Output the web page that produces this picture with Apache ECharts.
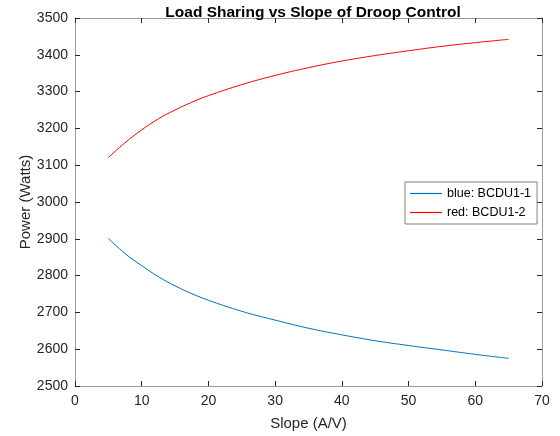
<!DOCTYPE html>
<html>
<head>
<meta charset="utf-8">
<script src="https://cdn.jsdelivr.net/npm/echarts@6/dist/echarts.min.js"></script>
<style>html,body{margin:0;padding:0;background:#fff}#c{width:560px;height:436px}</style>
</head>
<body>
<div id="c"></div>
<script>
var slope = [5, 7.5, 10, 12.5, 15, 17.5, 20, 25, 30, 35, 40, 45, 50, 55, 60, 65];
var bcdu1 = [2901, 2860, 2827, 2797, 2772, 2751, 2733, 2703, 2679, 2657, 2639, 2623, 2610, 2598, 2586, 2575];
var bcdu2 = [3121, 3161, 3196, 3226, 3250, 3271, 3289, 3319, 3344, 3365, 3383, 3398, 3411, 3423, 3433, 3442];
var seriesNames = ['blue: BCDU1-1', 'red: BCDU1-2'];
var xTicks = {min: 0, max: 70, step: 10};
var yTicks = {min: 2500, max: 3500, step: 100};

function pairs(xs, ys) { return xs.map(function (x, i) { return [x, ys[i]]; }); }

var font = 'Liberation Sans, Arial, Helvetica, sans-serif';
var axisCol = '#262626';
var chart = echarts.init(document.getElementById('c'), null, {renderer: 'canvas'});

function xAx(pos, show) {
  return {
    type: 'value', position: pos, min: xTicks.min, max: xTicks.max, interval: xTicks.step,
    axisLine: {show: true, onZero: false, lineStyle: {color: '#9a9a9a', width: 1}},
    axisTick: {show: true, inside: true, length: 5, lineStyle: {color: axisCol}},
    axisLabel: {show: show, color: axisCol, fontSize: 14, fontFamily: font, margin: 8,
                formatter: function (v) { return String(v); }},
    splitLine: {show: false},
    name: show ? 'Slope (A/V)' : '', nameLocation: 'middle', nameGap: 30, nameMoveOverlap: false,
    nameTextStyle: {color: axisCol, fontSize: 15, fontFamily: font}
  };
}
function yAx(pos, show) {
  return {
    type: 'value', position: pos, min: yTicks.min, max: yTicks.max, interval: yTicks.step,
    axisLine: {show: true, onZero: false, lineStyle: {color: '#9a9a9a', width: 1}},
    axisTick: {show: true, inside: true, length: 5, lineStyle: {color: axisCol}},
    axisLabel: {show: show, color: axisCol, fontSize: 14, fontFamily: font, margin: 7,
                formatter: function (v) { return String(v); }},
    splitLine: {show: false},
    name: show ? 'Power (Watts)' : '', nameLocation: 'middle', nameGap: 42, nameMoveOverlap: false,
    nameTextStyle: {color: axisCol, fontSize: 15, fontFamily: font}
  };
}

chart.setOption({
  animation: false,
  backgroundColor: '#fff',
  title: {
    text: 'Load Sharing vs Slope of Droop Control',
    left: 308, top: 0, textAlign: 'center',
    textStyle: {color: '#000', fontSize: 15.5, fontWeight: 'bold', fontFamily: font}
  },
  grid: {left: 75, right: 18, top: 18, bottom: 50, containLabel: false},
  xAxis: [xAx('bottom', true), xAx('top', false)],
  yAxis: [yAx('left', true), yAx('right', false)],
  legend: {
    orient: 'vertical', left: 405, top: 182,
    backgroundColor: '#fff', borderColor: '#808080', borderWidth: 1,
    padding: [5, 6, 5, 5], itemGap: 6, itemWidth: 32, itemHeight: 1.2,
    icon: 'rect',
    textStyle: {color: '#000', fontSize: 12.5, fontFamily: font},
    data: seriesNames
  },
  series: [
    {name: seriesNames[0], type: 'line', data: pairs(slope, bcdu1), smooth: 0.4, symbol: 'none',
     lineStyle: {color: '#0072BD', width: 1}, itemStyle: {color: '#0072BD'}},
    {name: seriesNames[1], type: 'line', data: pairs(slope, bcdu2), smooth: 0.4, symbol: 'none',
     lineStyle: {color: '#FF0000', width: 1}, itemStyle: {color: '#FF0000'}}
  ]
});
</script>
</body>
</html>
